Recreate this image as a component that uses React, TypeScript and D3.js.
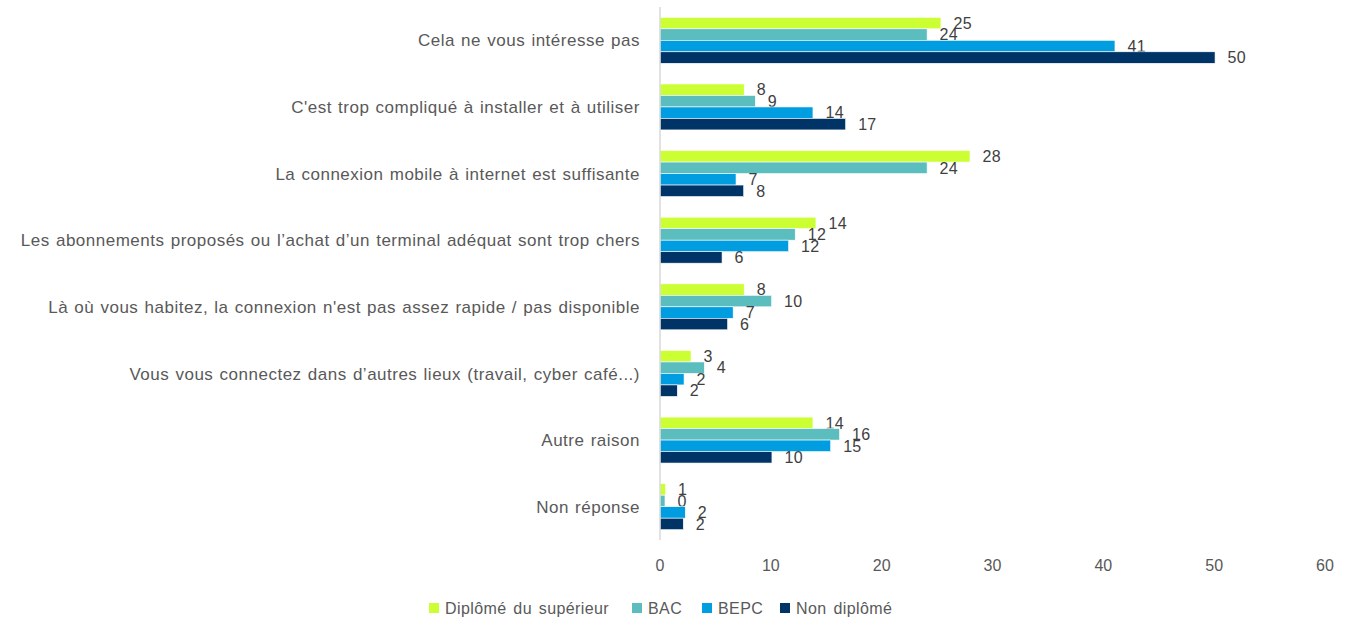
import React from "react";
import * as d3 from "d3";

const categories = [
  "Cela ne vous intéresse pas",
  "C'est trop compliqué à installer et à utiliser",
  "La connexion mobile à internet est suffisante",
  "Les abonnements proposés ou l’achat d’un terminal adéquat sont trop chers",
  "Là où vous habitez, la connexion n'est pas assez rapide / pas disponible",
  "Vous vous connectez dans d’autres lieux (travail, cyber café...)",
  "Autre raison",
  "Non réponse",
];

const seriesNames = ["Diplômé du supérieur", "BAC", "BEPC", "Non diplômé"];
const seriesColors = ["#CCFF33", "#5BBDBE", "#009DE0", "#003366"];

const superieur = [25.35, 7.6, 27.97, 14.07, 7.6, 2.8, 13.8, 0.5];
const bac = [24.1, 8.6, 24.1, 12.2, 10.07, 4.0, 16.2, 0.45];
const bepc = [41.05, 13.8, 6.86, 11.6, 6.6, 2.17, 15.4, 2.28];
const nonDiplome = [50.08, 16.75, 7.55, 5.6, 6.1, 1.56, 10.1, 2.1];

const xTicks = [0, 10, 20, 30, 40, 50, 60];

const W = 1353;
const H = 621;

export default function App() {
  const series = [superieur, bac, bepc, nonDiplome];
  const x = d3.scaleLinear().domain([0, 60]).range([660, 1325]);
  const y = d3
    .scaleBand<string>()
    .domain(categories)
    .range([7, 540])
    .paddingInner(0.31)
    .paddingOuter(0.155);
  const inner = d3
    .scaleBand<number>()
    .domain(d3.range(seriesNames.length))
    .range([0, y.bandwidth()]);

  const font = "'Liberation Sans', Arial, sans-serif";

  const legendX = [429, 632, 702, 780];

  return (
    <svg
      width={W}
      height={H}
      style={{ position: "absolute", left: 0, top: 0, background: "#fff" }}
      fontFamily={font}
    >
      {categories.map((c, i) => (
        <g key={c}>
          {series.map((vals, s) => {
            const yy = (y(c) as number) + (inner(s) as number);
            return (
              <g key={s}>
                <rect
                  x={x(0)}
                  y={yy}
                  width={x(vals[i]) - x(0)}
                  height={inner.bandwidth()}
                  fill={seriesColors[s]}
                  stroke="#ffffff"
                  strokeWidth={0.6}
                />
                <text
                  x={x(vals[i]) + 12.5}
                  y={yy + inner.bandwidth() / 2}
                  dy="0.36em"
                  fontSize={16}
                  fill="#404040"
                  letterSpacing={0.3}
                >
                  {Math.round(vals[i])}
                </text>
              </g>
            );
          })}
          <text
            x={640}
            y={(y(c) as number) + y.bandwidth() / 2}
            dy="0.36em"
            textAnchor="end"
            fontSize={17}
            fill="#595959"
            letterSpacing={0.5}
            wordSpacing={1}
          >
            {c}
          </text>
        </g>
      ))}
      <line x1={x(0)} x2={x(0)} y1={7} y2={540} stroke="#d9d9d9" strokeWidth={1.5} />
      {xTicks.map((t) => (
        <text
          key={t}
          x={x(t)}
          y={565}
          dy="0.36em"
          textAnchor="middle"
          fontSize={16}
          fill="#595959"
        >
          {t}
        </text>
      ))}
      {seriesNames.map((n, s) => (
        <g key={n}>
          <rect x={legendX[s]} y={603} width={10} height={10} fill={seriesColors[s]} />
          <text
            x={legendX[s] + 16}
            y={608}
            dy="0.36em"
            fontSize={16}
            fill="#595959"
            letterSpacing={0.4}
            wordSpacing={2}
          >
            {n}
          </text>
        </g>
      ))}
    </svg>
  );
}
